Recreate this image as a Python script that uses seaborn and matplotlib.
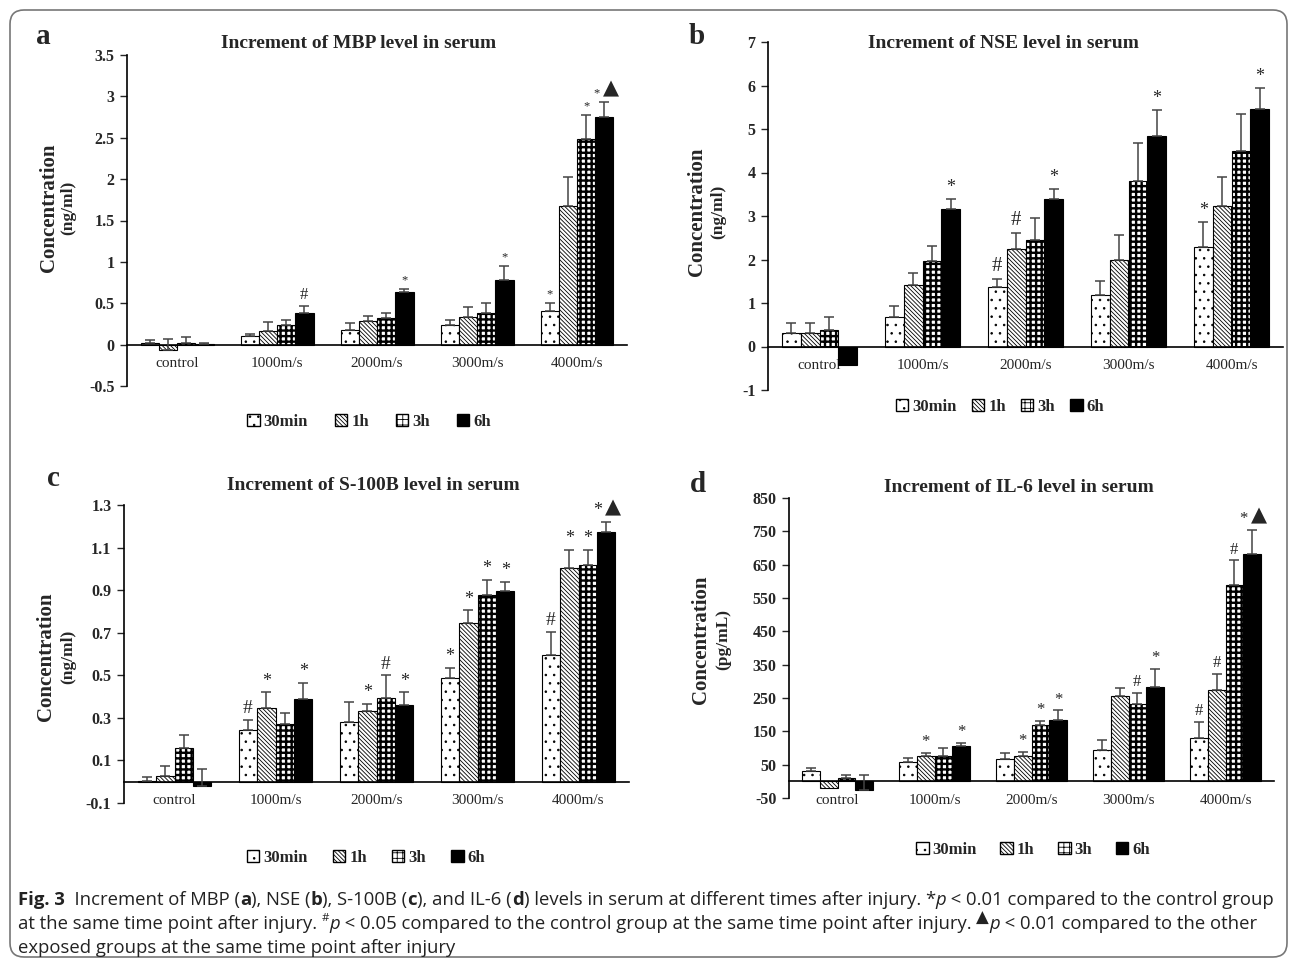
import numpy as np
import pandas as pd
import matplotlib
matplotlib.use("Agg")
import matplotlib.pyplot as plt
from matplotlib.patches import Patch, FancyBboxPatch
import seaborn as sns

# ---- data ----
categories = ["control", "1000m/s", "2000m/s", "3000m/s", "4000m/s"]
times = ["30min", "1h", "3h", "6h"]

# rows = time point, columns = category
mbp_mean = [[0.02, 0.10, 0.18, 0.24, 0.41],
            [-0.07, 0.17, 0.28, 0.33, 1.67],
            [0.02, 0.24, 0.32, 0.38, 2.48],
            [0.005, 0.38, 0.64, 0.78, 2.75]]
mbp_err = [[0.03, 0.03, 0.08, 0.06, 0.09],
           [0.14, 0.10, 0.06, 0.13, 0.35],
           [0.07, 0.06, 0.06, 0.12, 0.29],
           [0.015, 0.09, 0.03, 0.17, 0.18]]
mbp_marks = [["", "", "", "", "*"],
             ["", "", "", "", ""],
             ["", "", "", "", "*"],
             ["", "#", "*", "*", "*▲"]]

nse_mean = [[0.32, 0.68, 1.37, 1.19, 2.28],
            [0.32, 1.42, 2.23, 1.98, 3.22],
            [0.37, 1.96, 2.45, 3.80, 4.50],
            [-0.43, 3.15, 3.40, 4.83, 5.46]]
nse_err = [[0.23, 0.24, 0.18, 0.32, 0.59],
           [0.23, 0.28, 0.39, 0.58, 0.68],
           [0.31, 0.34, 0.51, 0.88, 0.85],
           [0.0, 0.25, 0.22, 0.61, 0.49]]
nse_marks = [["", "", "#", "", "*"],
             ["", "", "#", "", ""],
             ["", "", "", "", ""],
             ["", "*", "*", "*", "*"]]

s100b_mean = [[0.005, 0.245, 0.28, 0.485, 0.595],
              [0.025, 0.345, 0.33, 0.745, 1.005],
              [0.16, 0.27, 0.395, 0.875, 1.02],
              [-0.02, 0.39, 0.36, 0.895, 1.175]]
s100b_err = [[0.015, 0.045, 0.095, 0.05, 0.11],
             [0.05, 0.075, 0.035, 0.06, 0.085],
             [0.06, 0.055, 0.105, 0.075, 0.07],
             [0.08, 0.075, 0.06, 0.045, 0.045]]
s100b_marks = [["", "#", "", "*", "#"],
               ["", "*", "*", "*", "*"],
               ["", "", "#", "*", "*"],
               ["", "*", "*", "*", "*▲"]]

il6_mean = [[30, 58, 68, 95, 130],
            [-20, 75, 75, 255, 275],
            [10, 75, 170, 232, 588],
            [-25, 105, 185, 283, 682]]
il6_err = [[10, 12, 17, 28, 48],
           [0, 10, 13, 25, 47],
           [10, 25, 12, 33, 75],
           [43, 10, 28, 55, 73]]
il6_marks = [["", "", "", "", "#"],
             ["", "*", "*", "", "#"],
             ["", "", "*", "#", "#"],
             ["", "*", "*", "*", "*▲"]]

# ---- style ----
sns.set_theme(style="white")
serif = ["Liberation Serif", "DejaVu Serif"]
plt.rcParams["font.family"] = serif
plt.rcParams["hatch.linewidth"] = 0.6

faces = ["white", "white", "white", "black"]
hatches = ["..", "\\\\\\\\\\\\\\\\", "+++", ""]

fig = plt.figure(figsize=(12.95, 9.6), dpi=100)
W, H = 1295, 960


def px_axes(left, top, right, bottom):
    return fig.add_axes([left / W, 1 - bottom / H, (right - left) / W, (bottom - top) / H])


def draw_panel(ax, mean, err, marks, ylim, yticks, star_size, hash_size):
    rows = []
    for i, t in enumerate(times):
        for j, c in enumerate(categories):
            rows.append({"category": c, "time": t, "value": mean[i][j]})
    df = pd.DataFrame(rows)
    sns.barplot(data=df, x="category", y="value", hue="time", order=categories,
                hue_order=times, width=0.73, errorbar=None, palette=faces,
                edgecolor="black", linewidth=0.8, legend=False, ax=ax)
    bar_groups = list(ax.containers)
    for i, cont in enumerate(bar_groups):
        xs, ys, es = [], [], []
        for j, bar in enumerate(cont):
            bar.set_hatch(hatches[i])
            if i == 2 and hasattr(bar, "set_hatch_linewidth"):
                bar.set_hatch_linewidth(1.7)
            x = bar.get_x() + bar.get_width() / 2
            if err[i][j] > 0:
                xs.append(x)
                ys.append(mean[i][j])
                es.append(err[i][j])
            m = marks[i][j]
            if m:
                top = mean[i][j] + err[i][j]
                if m == "*▲":
                    ax.annotate("*", (x, top), xytext=(-6, 2), textcoords="offset points",
                                ha="center", va="bottom", fontsize=star_size)
                    ax.annotate("▲", (x, top), xytext=(5, 3), textcoords="offset points",
                                ha="center", va="bottom", fontsize=15,
                                family=["DejaVu Sans"])
                else:
                    ax.annotate(m, (x, top), xytext=(0, 2), textcoords="offset points",
                                ha="center", va="bottom",
                                fontsize=star_size if m == "*" else hash_size)
        ax.errorbar(xs, ys, yerr=[np.zeros(len(es)), es], fmt="none", ecolor="#444444",
                    elinewidth=1.1, capsize=3.5, capthick=1.1, zorder=5)

    ax.set_xlim(-0.5, 4.5)
    ax.set_ylim(*ylim)
    ax.set_yticks(yticks)
    ax.set_yticklabels([f"{v:g}" for v in yticks], fontweight="bold", fontsize=11.5)
    ax.set_xticks(range(len(categories)))
    ax.set_xticklabels(categories, fontweight="bold", fontsize=11.5)
    ax.set_xticks(np.arange(0.5, 5, 1), minor=True)
    ax.tick_params(axis="x", which="major", length=0, pad=9)
    ax.tick_params(axis="x", which="minor", length=5, direction="in", width=1)
    ax.tick_params(axis="y", length=5, direction="out", width=1, left=True, pad=4)
    ax.spines["bottom"].set_position(("data", 0))
    for s in ["top", "right"]:
        ax.spines[s].set_visible(False)
    for s in ["left", "bottom"]:
        ax.spines[s].set_color("black")
        ax.spines[s].set_linewidth(1.2)
    ax.set_xlabel("")
    ax.set_ylabel("")
    ax.patch.set_alpha(0)


def legend_at(cx, cy, spacing):
    handles = [Patch(facecolor=faces[i], edgecolor="black", hatch=hatches[i], label=t)
               for i, t in enumerate(times)]
    fig.legend(handles=handles, loc="center", bbox_to_anchor=(cx / W, 1 - cy / H),
               ncol=4, frameon=False, handlelength=0.75, handleheight=0.75,
               handletextpad=0.25, columnspacing=spacing,
               prop={"family": serif, "weight": "bold", "size": 12})


def ylab(x1, x2, y, unit):
    fig.text(x1 / W, 1 - y / H, "Concentration", rotation=90, ha="center", va="center",
             fontsize=15, fontweight="bold")
    fig.text(x2 / W, 1 - y / H, unit, rotation=90, ha="center", va="center",
             fontsize=12.5, fontweight="bold")


def ftext(x, y, s, **kw):
    fig.text(x / W, 1 - y / H, s, ha="center", va="center", **kw)


# panel a
ax_a = px_axes(127, 55, 627, 386)
draw_panel(ax_a, mbp_mean, mbp_err, mbp_marks, (-0.5, 3.5),
           [-0.5, 0, 0.5, 1, 1.5, 2, 2.5, 3, 3.5], 9, 12)
ftext(359, 43, "Increment of MBP level in serum", fontsize=14, fontweight="bold")
ftext(43, 37, "a", fontsize=21, fontweight="bold")
ylab(49, 68, 208, "(ng/ml)")
legend_at(369, 422, 1.6)

# panel b
ax_b = px_axes(768, 42, 1283, 390)
draw_panel(ax_b, nse_mean, nse_err, nse_marks, (-1, 7), list(range(-1, 8)), 13, 15)
ftext(1003, 43, "Increment of NSE level in serum", fontsize=14, fontweight="bold")
ftext(697, 37, "b", fontsize=21, fontweight="bold")
ylab(697, 718, 212, "(ng/ml)")
legend_at(1000, 407, 0.9)

# panel c
ax_c = px_axes(124, 505, 629, 803)
draw_panel(ax_c, s100b_mean, s100b_err, s100b_marks, (-0.1, 1.3),
           [-0.1, 0.1, 0.3, 0.5, 0.7, 0.9, 1.1, 1.3], 13, 14)
ftext(373, 485, "Increment of S-100B level in serum", fontsize=14, fontweight="bold")
ftext(53, 478, "c", fontsize=21, fontweight="bold")
ylab(46, 68, 657, "(ng/ml)")
legend_at(366, 858, 1.5)

# panel d
ax_d = px_axes(789, 498, 1274, 798)
draw_panel(ax_d, il6_mean, il6_err, il6_marks, (-50, 850),
           list(range(-50, 851, 100)), 12, 12)
ftext(1019, 487, "Increment of IL-6 level in serum", fontsize=14, fontweight="bold")
ftext(698, 484, "d", fontsize=21, fontweight="bold")
ylab(701, 723, 640, "(pg/mL)")
legend_at(1033, 850, 1.4)

# ---- caption ----
cap = fig.add_axes([0, 0, 1, 1])
cap.axis("off")
cap.set_xlim(0, W)
cap.set_ylim(H, 0)
sans = ["Open Sans", "DejaVu Sans"]


def caption_line(y, parts, size=13.3):
    first = prev = None
    for s, kind in parts:
        kw = dict(family=sans, fontsize=size, color="#222222")
        if kind == "b":
            kw["fontweight"] = "bold"
        if kind == "i":
            kw["fontstyle"] = "italic"
        if kind == "sup":
            kw["fontsize"] = size * 0.62
        if kind == "tri":
            kw["fontsize"] = size * 0.9
        if first is None:
            first = prev = cap.text(18, y, s, ha="left", va="bottom", **kw)
        else:
            yy = {"sup": 0.5, "tri": 0.35}.get(kind, 0)
            prev = cap.annotate(s, xy=(1, yy), xycoords=(prev, first),
                                ha="left", va="bottom", **kw)


caption_line(909, [("Fig. 3", "b"), ("  Increment of MBP (", "n"), ("a", "b"), ("), NSE (", "n"),
                   ("b", "b"), ("), S-100B (", "n"), ("c", "b"), ("), and IL-6 (", "n"),
                   ("d", "b"), (") levels in serum at different times after injury. *", "n"),
                   ("p", "i"), (" < 0.01 compared to the control group", "n")])
caption_line(933, [("at the same time point after injury. ", "n"), ("#", "sup"), ("p", "i"),
                   (" < 0.05 compared to the control group at the same time point after injury. ", "n"),
                   ("▲", "tri"), ("p", "i"), (" < 0.01 compared to the other", "n")])
caption_line(957, [("exposed groups at the same time point after injury", "n")])

# rounded frame
frame = FancyBboxPatch((10, 10), 1277, 947, boxstyle="round,pad=0,rounding_size=14",
                       transform=cap.transData, fill=False, edgecolor="#777777", linewidth=1.2)
cap.add_patch(frame)

fig.savefig("out.png", dpi=100)
